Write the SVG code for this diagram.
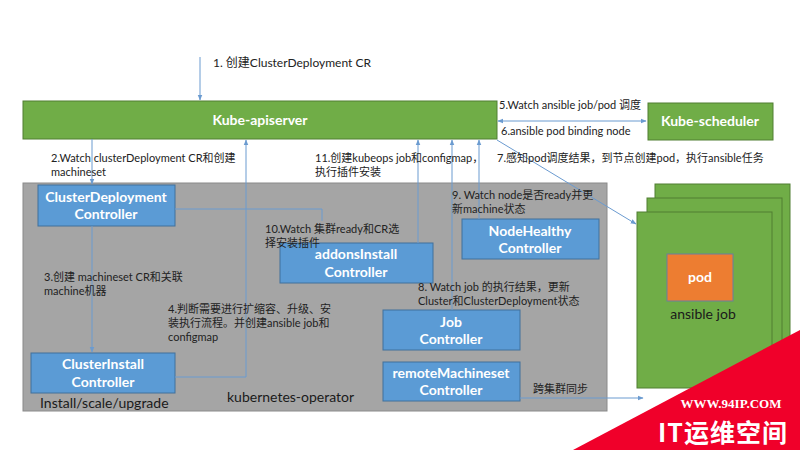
<svg xmlns="http://www.w3.org/2000/svg" width="800" height="450" viewBox="0 0 800 450">
<defs>
<marker id="arr" viewBox="0 0 10 10" refX="9" refY="5" markerWidth="6" markerHeight="6" orient="auto-start-reverse" markerUnits="userSpaceOnUse">
<path d="M0,1 L10,5 L0,9 z" fill="#6b9bd0"/>
</marker>
<style>
.t{font-family:Lato,"Noto Sans CJK SC",sans-serif;font-size:11px;fill:#222}
.big{font-family:Lato,"Noto Sans CJK SC",sans-serif;font-size:14px;fill:#1a1a1a}
.nt{font-family:Lato,"Noto Sans CJK SC",sans-serif;font-size:14px;font-weight:bold;fill:#fff;text-anchor:middle}
.ctl{fill:#5b9bd5;stroke:#41719c;stroke-width:1}
.grn{fill:#70ad47;stroke:#507e32;stroke-width:1}
.ln{fill:none;stroke:#6b9bd0;stroke-width:1}
</style>
</defs>
<rect width="800" height="450" fill="#fff"/>

<g id="operator">
<rect x="23" y="183" width="584" height="228" fill="#a5a5a5" stroke="#8a8a8a"/>
<text class="big" x="227" y="402">kubernetes-operator</text>
</g>

<g id="apiserver">
<rect class="grn" x="23" y="101" width="474" height="38"/>
<text class="nt" x="260" y="125">Kube-apiserver</text>
</g>

<g id="scheduler">
<rect class="grn" x="648" y="103" width="125" height="37"/>
<text class="nt" x="710" y="126">Kube-scheduler</text>
</g>

<g id="ansible-job">
<rect class="grn" x="655" y="184" width="135" height="176"/>
<rect class="grn" x="647" y="198" width="135" height="176"/>
<rect class="grn" x="637" y="212" width="135" height="176"/>
<rect x="667" y="254" width="66" height="47" fill="#ed7d31" stroke="#6a7fa0"/>
<text class="nt" x="700" y="282">pod</text>
<text class="big" x="703" y="319" text-anchor="middle">ansible job</text>
</g>

<g id="clusterdeployment">
<rect class="ctl" x="38" y="185" width="137" height="41"/>
<text class="nt" x="106" y="202">ClusterDeployment</text>
<text class="nt" x="106" y="219">Controller</text>
</g>

<g id="clusterinstall">
<rect class="ctl" x="31" y="353" width="144" height="40"/>
<text class="nt" x="103" y="369">ClusterInstall</text>
<text class="nt" x="103" y="387">Controller</text>
<text class="big" x="40" y="408">Install/scale/upgrade</text>
</g>

<g id="addonsinstall">
<rect class="ctl" x="280" y="243" width="153" height="40"/>
<text class="nt" x="356" y="259">addonsInstall</text>
<text class="nt" x="356" y="277">Controller</text>
</g>

<g id="nodehealthy">
<rect class="ctl" x="462" y="219" width="137" height="40"/>
<text class="nt" x="530" y="236">NodeHealthy</text>
<text class="nt" x="530" y="253">Controller</text>
</g>

<g id="job">
<rect class="ctl" x="383" y="310" width="137" height="40"/>
<text class="nt" x="451" y="327">Job</text>
<text class="nt" x="451" y="344">Controller</text>
</g>

<g id="remotemachineset">
<rect class="ctl" x="383" y="362" width="137" height="39"/>
<text class="nt" x="451" y="378">remoteMachineset</text>
<text class="nt" x="451" y="395">Controller</text>
</g>

<g id="connectors">
<path class="ln" d="M200,57 V100" marker-end="url(#arr)"/>
<path class="ln" d="M92,139 V184" marker-end="url(#arr)"/>
<path class="ln" d="M92,226 V352" marker-end="url(#arr)"/>
<path class="ln" d="M175,377 H246 V140" marker-end="url(#arr)"/>
<path class="ln" d="M175,209 H322 V221"/>
<path class="ln" d="M418,243 V140" marker-end="url(#arr)"/>
<path class="ln" d="M452,310 V140" marker-end="url(#arr)"/>
<path class="ln" d="M479,219 V140" marker-end="url(#arr)"/>
<path class="ln" d="M498,121 H646" marker-start="url(#arr)" marker-end="url(#arr)"/>
<path class="ln" d="M497,140 L636,224" marker-end="url(#arr)"/>
<path class="ln" d="M520,398 H643" marker-end="url(#arr)"/>
</g>

<g id="labels">
<text class="t" x="213" y="67" style="font-size:12px">1. 创建ClusterDeployment CR</text>
<text class="t" x="499" y="109">5.Watch ansible job/pod 调度</text>
<text class="t" x="501" y="135">6.ansible pod binding node</text>
<text class="t" x="497" y="162">7.感知pod调度结果，到节点创建pod，执行ansible任务</text>
<text class="t" x="51" y="162">2.Watch clusterDeployment CR和创建</text>
<text class="t" x="51" y="176">machineset</text>
<text class="t" x="315" y="162">11.创建kubeops job和configmap，</text>
<text class="t" x="315" y="176">执行插件安装</text>
<text class="t" x="44" y="281">3.创建 machineset CR和关联</text>
<text class="t" x="44" y="295">machine机器</text>
<text class="t" x="168" y="313">4.判断需要进行扩缩容、升级、安</text>
<text class="t" x="168" y="327">装执行流程。并创建ansible job和</text>
<text class="t" x="168" y="341">configmap</text>
<text class="t" x="265" y="233">10.Watch 集群ready和CR选</text>
<text class="t" x="265" y="247">择安装插件</text>
<text class="t" x="452" y="199">9. Watch node是否ready并更</text>
<text class="t" x="452" y="213">新machine状态</text>
<text class="t" x="418" y="291">8. Watch job 的执行结果，更新</text>
<text class="t" x="418" y="305">Cluster和ClusterDeployment状态</text>
<text class="t" x="533" y="393">跨集群同步</text>
</g>

<g id="watermark">
<polygon points="800,330 800,450 573,450" fill="#f0002a"/>
<text x="731" y="408" text-anchor="middle" font-family="'Liberation Serif',serif" font-weight="bold" font-size="13" fill="#fff">WWW.94IP.COM</text>
<text x="723" y="442" text-anchor="middle" font-family="'Noto Sans CJK SC',sans-serif" font-weight="bold" font-size="25" letter-spacing="1" fill="#fff">IT运维空间</text>
</g>
</svg>
